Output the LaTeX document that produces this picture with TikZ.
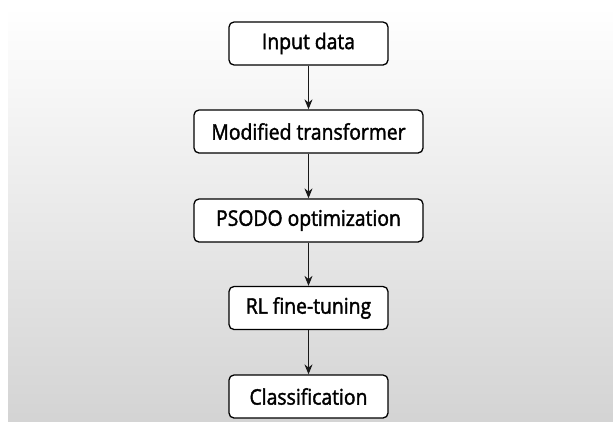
\documentclass[tikz,border=0pt]{standalone}
\usepackage{fontspec}
\setmainfont{Open Sans}[FakeStretch=0.9, FakeBold=1.8]
\usetikzlibrary{arrows.meta}
\tikzset{
  stepbox/.style={draw=black, line width=1.3pt, fill=white, rounded corners=5pt,
    minimum height=43pt, inner sep=0pt, font=\fontsize{21.5}{24}\selectfont, text=black},
  flow/.style={draw=black!90, line width=1.1pt, -{Stealth[length=10pt,width=8pt]}}
}
\begin{document}
\begin{tikzpicture}[x=1pt,y=-1pt]
\useasboundingbox (0,0) rectangle (613,421);
\fill[white] (0,0) rectangle (613,421);
\shade[top color=white, bottom color=black!17] (8,7) rectangle (613,421);
\node[stepbox, minimum width=159pt] (a) at (308.5,43.5) {Input data};
\node[stepbox, minimum width=229pt] (b) at (308.5,131.5) {Modified transformer};
\node[stepbox, minimum width=229pt] (c) at (308.5,220.5) {PSODO optimization};
\node[stepbox, minimum width=159pt] (d) at (308.5,308) {RL fine-tuning};
\node[stepbox, minimum width=159pt] (e) at (308.5,396.5) {Classification};
\draw[flow] (a) -- (b);
\draw[flow] (b) -- (c);
\draw[flow] (c) -- (d);
\draw[flow] (d) -- (e);
\end{tikzpicture}
\end{document}
